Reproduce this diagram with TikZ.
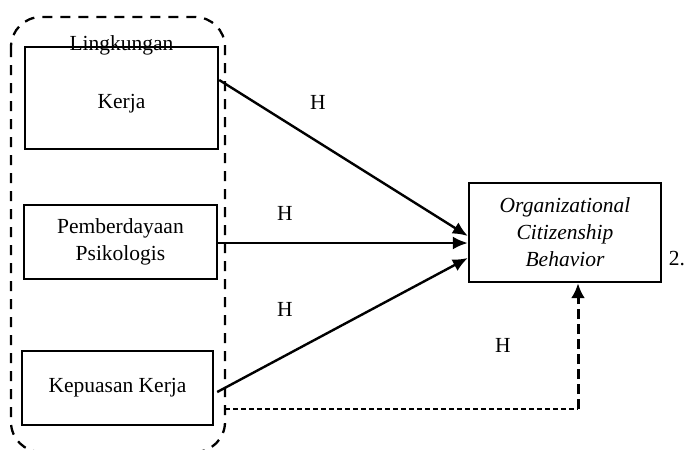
\documentclass[tikz,border=0pt]{standalone}
\usepackage{fontspec}
\setmainfont{Liberation Serif}
\usetikzlibrary{arrows.meta}

\begin{document}
\begin{tikzpicture}[x=1pt, y=-1pt,
    txt/.style={font=\fontsize{21.5}{27}\selectfont, inner sep=0pt},
    varbox/.style={txt, draw, line width=2.4pt, align=center},
    path/.style={line width=2.4pt, ->, >={Latex[length=15pt,width=13pt]}}]
      \useasboundingbox (0,0) rectangle (686,450);
      % kelompok variabel bebas
      \draw[line width=2.3pt, dash pattern=on 10pt off 8pt, rounded corners=30pt]
        (11,17) rectangle (225,452);

      \node[varbox, minimum width=193pt, minimum height=102pt, text height=25pt, text depth=5pt,
            label={[txt, anchor=center]90:Lingkungan}] (lk) at (121.5,98) {Kerja};
      \node[varbox, minimum width=193pt, minimum height=74pt] (pp) at (120.5,242) {Pemberdayaan\\Psikologis};
      \node[varbox, minimum width=191pt, minimum height=74pt, text height=13pt, text depth=5pt] (kk) at (117.5,388) {Kepuasan Kerja};
      \node[varbox, minimum width=192pt, minimum height=99pt] (ocb) at (565,232.5)
        {\itshape Organizational\\\itshape Citizenship\\\itshape Behavior};
      \node[txt] (num) at (677,259) {2.};

      \node[txt] (h1) at (318,102) {H};
      \node[txt] (h2) at (285,213) {H};
      \node[txt] (h3) at (285,309) {H};
      \node[txt] (h4) at (503,345) {H};

      \draw[path] ([yshift=18pt]lk.east) -- ([yshift=-3.5pt]ocb.west);
      \draw[path] ([yshift=-1pt]pp.east) -- ([yshift=-10.5pt]ocb.west);
      \draw[path] ([xshift=3pt, yshift=-4pt]kk.east) -- ([yshift=-25.5pt]ocb.west);

      % jalur moderasi
      \coordinate (gate) at (225,409);
      \coordinate (bend) at (578,409);
      \draw[line width=1.4pt, dash pattern=on 5pt off 3pt] (gate) -- (bend);
      \draw[line width=3pt, dash pattern=on 10pt off 5pt, ->, >={Latex[length=15pt,width=14pt]}]
        (bend) -- (bend |- ocb.south);
\end{tikzpicture}
\end{document}
